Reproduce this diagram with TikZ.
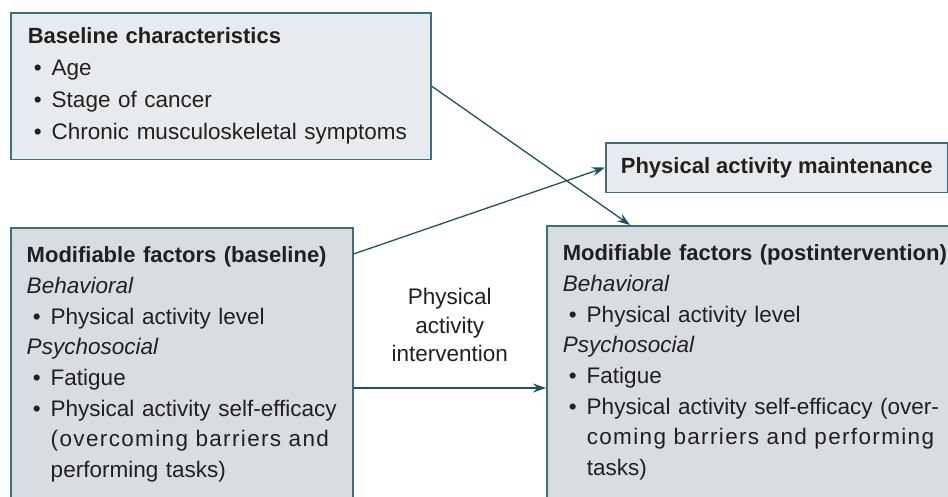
\documentclass[tikz,border=0pt]{standalone}
\usepackage{fontspec}
\setmainfont{Liberation Sans}
\usepackage{xcolor}
\usetikzlibrary{arrows.meta,positioning,calc}
\definecolor{edgeteal}{HTML}{3F6E7C}
\definecolor{arrowteal}{HTML}{1E5262}
\definecolor{paleblue}{HTML}{E7EBEE}
\definecolor{greyblue}{HTML}{D7DDE1}
\definecolor{ink}{HTML}{231F20}
\newcommand{\hd}[1]{{\fontsize{22}{30}\selectfont\bfseries #1}}  % box titles
\newcommand{\itm}{\makebox[24pt][l]{\hspace{6pt}•}}   % bullet + hanging indent
\newcommand{\cont}{\makebox[24pt]{}}                  % continuation of an item
\newcommand{\spread}[2]{\makebox[#1][s]{\addfontfeature{LetterSpace=6}#2}}

\begin{document}
\begin{tikzpicture}[x=1pt,y=1pt,% sizes in pt
	every node/.style={
		align=left,	% so that "\\" breaks lines
		text=ink,
		font=\fontsize{22.5}{30.7}\selectfont
	},
	box/.style={rectangle,draw=edgeteal,line width=1.5pt,anchor=north west,inner xsep=17pt,inner ysep=19pt},
	every edge/.style={draw=arrowteal,line width=1.3pt},
	>={Stealth[length=13pt,width=9pt,inset=4.5pt]}
	]
	\useasboundingbox (0,0) rectangle (948,-496);
	\node[box,fill=paleblue,text width=386pt,inner ysep=15pt,font=\fontsize{22.5}{32}\selectfont](R1) at (10,-12)
		{\hd{Baseline characteristics}\\ \itm Age\\ \itm Stage of cancer\\ \itm Chronic musculoskeletal symptoms};
	\node[box,fill=greyblue,text width=310pt,inner xsep=16pt](R2) at (10,-227)
		{\hd{Modifiable factors (baseline)}\\
		\textit{Behavioral}\\
		\itm Physical activity level\\
		\textit{Psychosocial}\\
		\itm Fatigue\\
		\itm Physical activity self-efficacy\\
		\cont\spread{283pt}{(overcoming barriers and}\\
		\cont performing tasks)};
	\node[box,fill=greyblue,text width=386pt,inner xsep=16pt](R3) at (546,-225)
		{\hd{Modifiable factors (postintervention)}\\
		\textit{Behavioral}\\
		\itm Physical activity level\\
		\textit{Psychosocial}\\
		\itm Fatigue\\
		\itm\makebox[355pt][s]{Physical activity self-efficacy (over-}\\
		\cont\spread{355pt}{coming barriers and performing}\\
		\cont tasks)};
	\node[box,fill=paleblue,align=center,inner sep=0pt,minimum width=342pt,minimum height=49.5pt](R4) at (605,-142)
		{\hd{Physical activity maintenance}};
	\coordinate (A) at ($(R2.north east)+(0,-161)$);
	\coordinate (M) at ($(A)!0.5!(A -| R3.west)$);
	\node[align=center,inner sep=0pt,font=\fontsize{22.5}{28.5}\selectfont](R5)[above=26pt of M]{Physical\\activity\\intervention};
	\path[->]
	(R1.east) edge ($(R3.north west)+(84,0)$)
	($(R2.north east)+(0,-27)$) edge (R4.west)
	(A) edge (A -| R3.west)
	;
\end{tikzpicture}
\end{document}
